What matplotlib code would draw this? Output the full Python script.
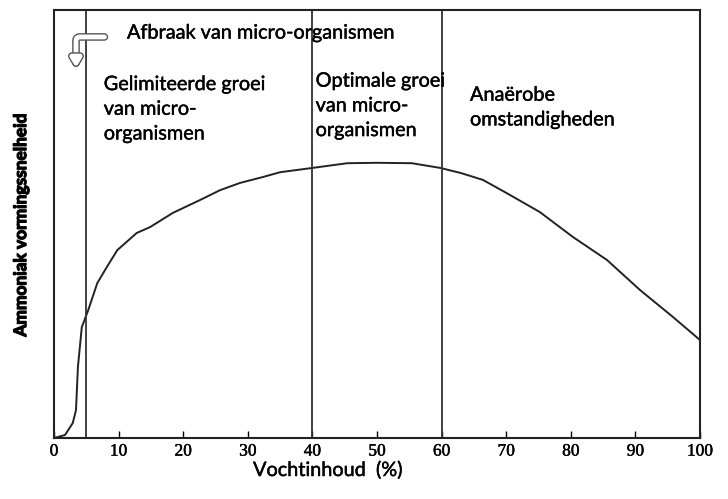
import matplotlib.pyplot as plt
import matplotlib.patheffects as pe
import numpy as np

# Curve (moisture %, relative rate)
moisture = [0, 1.7, 2.9, 3.4, 3.7, 4.3, 5.3, 6.7, 8.2, 9.8, 12.8, 14.9, 18.4, 22.6,
            25.7, 28.8, 32.4, 35, 40, 45.4, 50, 55.4, 59.8, 63, 66.4, 70.1, 75.2,
            80.3, 85.6, 90.7, 95.8, 100]
rate = [0, 0.7, 3.5, 6.5, 16.6, 25.9, 29.9, 36.2, 40, 43.9, 47.9, 49.3, 52.6, 55.6,
        57.9, 59.6, 61, 62.1, 63.1, 64.2, 64.3, 64.2, 63.1, 61.9, 60.3, 57.2, 52.8,
        47, 41.6, 34.6, 28.3, 22.9]

boundaries = [5, 40, 60]
xticks = np.arange(0, 101, 10)

zones = [
    (7.7, "Gelimiteerde groei\nvan micro-\norganismen", 76.8),
    (40.5, "Optimale groei\nvan micro-\norganismen", 77.6),
    (64.4, "Anaërobe\nomstandigheden", 77.2),
]

fig = plt.figure(figsize=(7.28, 4.99), dpi=100)
ax = fig.add_axes([0.0742, 0.1222, 0.8873, 0.8578])

ax.plot(moisture, rate, color='#222222', lw=1.4)
for b in boundaries:
    ax.axvline(b, color='#333333', lw=1.3)

ax.set_xlim(0, 100)
ax.set_ylim(0, 100)
ax.set_xticks(xticks)
ax.set_xticklabels([str(t) for t in xticks], family='Liberation Serif', fontsize=12.5,
                   path_effects=[pe.withStroke(linewidth=0.3, foreground='black')])
ax.set_yticks([])
ax.tick_params(axis='x', direction='in', length=5, width=1, pad=4)
for s in ax.spines.values():
    s.set_linewidth(1.5)
    s.set_color('#222222')

# slightly heavier strokes, like the scanned labels
heavy = [pe.withStroke(linewidth=0.3, foreground='black')]
txt_font = dict(family='Lato', fontsize=14.3, color='black', path_effects=heavy)
for x, label, y in zones:
    ax.text(x, y, label, va='center', ha='left', linespacing=1.55, **txt_font)

ax.text(11.3, 94.6, "Afbraak van micro-organismen", va='center', ha='left', **txt_font)

# hooked hollow arrow at top left
ax.annotate('', xy=(3.4, 86.5), xytext=(7.8, 93.7),
            arrowprops=dict(arrowstyle='-|>,head_length=0.5,head_width=0.3',
                            connectionstyle='angle,angleA=0,angleB=90,rad=4',
                            color='white', lw=3.5, shrinkA=0, shrinkB=0,
                            path_effects=[pe.Stroke(linewidth=5.5, foreground='#555555'), pe.Normal()]))

fig.text(0.45, 0.058, "Vochtinhoud  (%)", ha='center', va='center', **txt_font)
fig.text(0.029, 0.549, "Ammoniak vormingssnelheid", rotation=90, ha='center', va='center',
         family='Lato', fontsize=12.5, fontweight='bold',
         path_effects=[pe.withStroke(linewidth=0.9, foreground='black')])

fig.savefig('out.png', dpi=100)
